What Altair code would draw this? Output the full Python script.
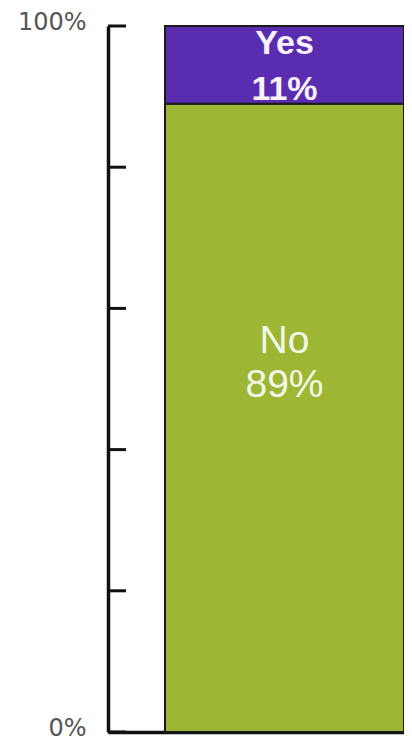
import altair as alt
import pandas as pd

CATEGORIES = ["No", "Yes"]
VALUES = [89, 11]
ORDER = [0, 1]
COLORS = ["#9db634", "#5a2db0"]
TICK_VALUES = [0, 20, 40, 60, 80, 100]
LABEL_VALUES = [0, 100]

df = pd.DataFrame({"answer": CATEGORIES, "pct": VALUES, "order": ORDER, "group": ["all"] * len(CATEGORIES)})
ticks_df = pd.DataFrame({"t": TICK_VALUES, "group": ["all"] * len(TICK_VALUES)})

yscale = alt.Scale(domain=[0, 100], nice=False, zero=True)
xscale = alt.Scale(paddingInner=0, paddingOuter=0.1192, align=1)

xenc = alt.X("group:N", scale=xscale, title=None,
             axis=alt.Axis(labels=False, ticks=False, title=None, domainColor="#111111", domainWidth=3.5))

bars = alt.Chart(df).mark_bar(stroke="#1a1a1a", strokeWidth=2).encode(
    x=xenc,
    y=alt.Y("pct:Q", stack="zero", scale=yscale, title=None,
            axis=alt.Axis(values=LABEL_VALUES, labelExpr="datum.value + '%'", grid=False, ticks=False,
                          domainColor="#111111", domainWidth=3.5, labelPadding=22,
                          labelFont="DejaVu Sans", labelFontSize=24, labelColor="#555555",
                          labelBaseline="middle", labelOffset=-4, title=None)),
    color=alt.Color("answer:N", scale=alt.Scale(domain=CATEGORIES, range=COLORS), legend=None),
    order=alt.Order("order:Q"),
)

tick_rules = alt.Chart(ticks_df).mark_rule(color="#111111", strokeWidth=3).encode(
    y=alt.Y("t:Q", scale=yscale, title=None),
    x=alt.value(0),
    x2=alt.value(18),
)

text_base = alt.Chart(df).transform_stack(
    stack="pct", groupby=["group"], as_=["y0", "y1"], sort=[alt.SortField("order")]
).transform_calculate(
    mid="(datum.y0 + datum.y1) / 2",
    label="datum.answer + '\\n' + datum.pct + '%'",
)

yes_text = text_base.transform_filter("datum.answer == 'Yes'").mark_text(
    lineBreak="\n", font="Liberation Sans", fontSize=34, fontWeight="bold", lineHeight=46,
    color="#f6f2ff", baseline="middle", dy=-21
).encode(x=alt.X("group:N", scale=xscale, title=None), y=alt.Y("mid:Q", scale=yscale, title=None), text="label:N")

no_text = text_base.transform_filter("datum.answer == 'No'").mark_text(
    lineBreak="\n", font="Liberation Sans", fontSize=39, lineHeight=44,
    color="#f3f7e8", baseline="middle", dy=-77
).encode(x=alt.X("group:N", scale=xscale, title=None), y=alt.Y("mid:Q", scale=yscale, title=None), text="label:N")

chart = alt.layer(bars, tick_rules, yes_text, no_text).properties(
    width=296, height=706,
    padding={"left": 100, "top": 18, "right": 0, "bottom": 8},
    autosize=alt.AutoSizeParams(type="none"),
    background="#ffffff",
).configure_view(stroke=None)

chart.save("out.html", embed_options={"renderer": "svg", "actions": False})
